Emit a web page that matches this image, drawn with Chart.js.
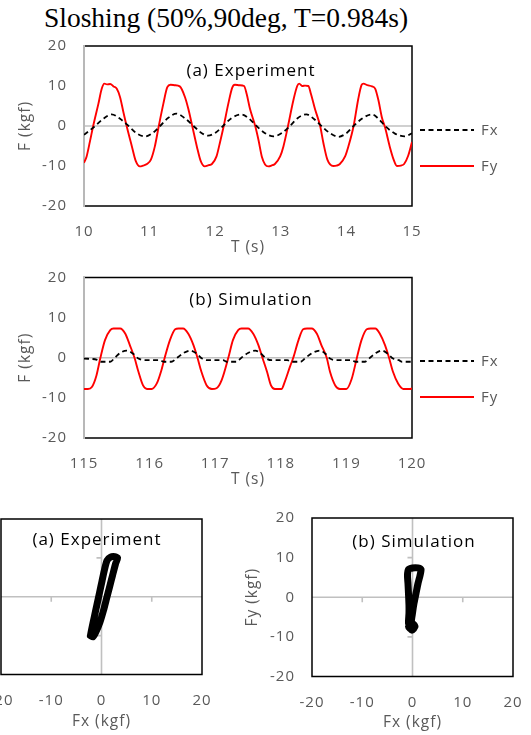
<!DOCTYPE html>
<html><head><meta charset="utf-8">
<script src="https://cdn.jsdelivr.net/npm/chart.js@4.4.1/dist/chart.umd.min.js"></script>
<style>
html,body{margin:0;padding:0;background:#fff;}
body{width:531px;height:735px;position:relative;overflow:hidden;}
canvas{position:absolute;}
.lab{position:absolute;white-space:nowrap;transform:translate(-50%,-50%);font-family:'Open Sans';font-size:17px;letter-spacing:1px;color:#000;line-height:1;}
#title{position:absolute;left:0;top:3px;width:452px;text-align:center;font-family:'Liberation Serif';font-size:27.5px;line-height:1.1;color:#000;white-space:nowrap;}
</style></head><body>
<div id="title">Sloshing (50%,90deg, T=0.984s)</div>
<canvas id="c1" width="531" height="262" style="left:0;top:0"></canvas>
<canvas id="c2" width="531" height="230" style="left:0;top:262px"></canvas>
<canvas id="c3" width="300" height="243" style="left:-90px;top:492px"></canvas>
<canvas id="c4" width="321" height="243" style="left:210px;top:492px"></canvas>
<div class="lab" style="left:251px;top:69px">(a) Experiment</div>
<div class="lab" style="left:251px;top:298px">(b) Simulation</div>
<div class="lab" style="left:97px;top:538px">(a) Experiment</div>
<div class="lab" style="left:414px;top:540px">(b) Simulation</div>
<script>
// ---------- data ----------
const seriesNames = ['Fx', 'Fy'];
const forceTicks = [-20, -10, 0, 10, 20];

// (a) Experiment, 10–15 s
const expFxT = [10.00,10.08,10.17,10.30,10.42,10.55,10.68,10.80,10.93,11.05,11.16,11.28,11.41,11.54,11.67,11.78,11.89,12.01,12.12,12.25,12.40,12.52,12.63,12.76,12.89,13.02,13.14,13.26,13.39,13.51,13.62,13.75,13.88,14.00,14.11,14.25,14.39,14.49,14.59,14.74,14.89,15.00];
const expFx  = [-2.2,-1.2,0,1.9,2.9,1.8,0,-1.8,-2.6,-1.7,0,2.0,3.1,1.9,0,-1.6,-2.4,-1.6,0,2.0,2.9,1.8,0,-1.8,-2.6,-1.7,0,2.0,2.9,1.7,0,-1.8,-2.7,-1.8,0,2.0,2.9,1.8,0,-1.9,-2.6,-1.8];

const expFyT = [10.00,10.04,10.09,10.14,10.22,10.27,10.31,10.35,10.40,10.45,10.50,10.55,10.60,10.65,10.73,10.79,10.85,10.90,10.96,
  11.02,11.08,11.14,11.21,11.27,11.32,11.38,11.46,11.54,11.59,11.65,11.72,11.78,11.84,11.90,11.95,
  12.02,12.07,12.13,12.20,12.26,12.30,12.37,12.44,12.48,12.53,12.61,12.66,12.71,12.76,12.81,12.87,12.91,12.99,
  13.04,13.11,13.19,13.25,13.28,13.33,13.37,13.42,13.46,13.52,13.60,13.65,13.71,13.80,13.85,13.90,13.98,
  14.03,14.11,14.18,14.23,14.26,14.32,14.39,14.44,14.49,14.54,14.59,14.66,14.72,14.77,14.83,14.88,14.94,15.00];
const expFy  = [-9.2,-7.6,-3.9,0,5.6,9.3,10.6,10.4,10.5,9.9,9.3,7.2,3.5,0,-5.1,-8.8,-10.1,-9.9,-9.5,
  -8.4,-5.1,0,5.6,9.7,10.3,10.2,9.9,7.2,4.3,0,-5.1,-8.8,-10.1,-9.8,-9.5,
  -7.6,-4.3,0,5.6,9.6,10.3,10.2,10.0,8.0,4.3,0,-3.5,-7.6,-9.6,-10.1,-9.8,-9.5,-7.6,
  -5.1,0,6.3,10.0,10.6,10.0,10.1,10.0,8.0,4.3,0,-4.3,-8.4,-10.0,-9.9,-9.5,-7.6,
  -5.1,0,6.7,10.2,10.6,10.2,9.9,9.3,6.3,2.2,-0.4,-5.1,-8.4,-10.0,-9.9,-9.5,-7.5,-4.0];

// (b) Simulation, 115–120 s
const simFxT = [115.00,115.20,115.26,115.40,115.47,115.55,115.65,115.75,115.83,115.92,116.15,116.22,116.33,116.42,116.52,116.62,116.72,116.80,116.88,
  117.12,117.18,117.32,117.40,117.50,117.61,117.70,117.78,117.86,118.10,118.16,118.30,118.38,118.48,118.60,118.68,118.75,118.84,
  119.08,119.14,119.28,119.36,119.45,119.54,119.63,119.71,119.80,119.85,120.00];
const simFx  = [-0.2,-0.5,-1.0,-1.0,0,1.2,1.8,1.0,-0.2,-0.6,-0.6,-1.0,-1.0,0,1.2,1.8,1.0,-0.2,-0.6,
  -0.6,-1.0,-1.0,0,1.2,1.8,1.0,-0.2,-0.6,-0.6,-1.0,-1.0,0,1.2,1.8,1.0,-0.2,-0.6,
  -0.6,-1.0,-1.0,0,1.2,1.8,1.0,-0.2,-0.6,-1.0,-1.0];

const simFyT = [115.00,115.06,115.12,115.19,115.25,115.32,115.40,115.45,115.55,115.63,115.70,115.77,115.83,115.90,115.96,
  116.03,116.11,116.18,116.23,116.31,116.39,116.44,116.51,116.59,116.67,116.73,116.79,116.87,116.95,
  117.02,117.10,117.20,117.27,117.35,117.40,117.50,117.58,117.66,117.72,117.79,117.85,117.91,
  118.01,118.06,118.14,118.19,118.27,118.34,118.40,118.47,118.55,118.62,118.70,118.75,118.83,118.90,
  119.00,119.08,119.16,119.23,119.31,119.37,119.44,119.51,119.59,119.65,119.71,119.79,119.87,119.97,120.00];
const simFy  = [-7.8,-7.8,-7.3,-4.4,0,4.4,6.9,7.3,7.3,6.0,3.1,0,-3.5,-6.9,-7.8,
  -7.8,-6.4,-3.1,0,4.4,7.1,7.3,7.3,6.0,3.1,0,-3.5,-6.9,-7.8,
  -7.6,-5.5,0,4.4,6.9,7.3,7.3,6.0,3.1,0,-3.5,-6.9,-7.8,
  -7.8,-6.0,-2.2,0,4.4,7.1,7.3,7.3,6.0,3.1,0,-3.5,-6.9,-7.8,
  -7.8,-5.3,0,4.4,7.1,7.3,7.3,6.0,3.1,0,-3.5,-6.5,-7.8,-7.8,-7.6];

// Fy vs Fx orbits
const loopExpFx = [-2.2,-1.9,-1.4,-0.9,-0.4,0.1,0.6,1.1,1.8,2.7,3.2,2.8,2.2,1.6,1.0,0.4,-0.3,-1.1,-1.7,-2.2];
const loopExpFy = [-10.0,-8.0,-5.0,-2.0,1.0,4.0,7.0,9.3,10.2,10.3,10.0,8.5,5.5,2.5,-0.5,-3.5,-6.5,-9.0,-10.3,-10.0];
const loopSimFx = [-0.5,-0.8,-0.7,-0.7,-0.8,-0.9,-1.0,-0.8,0.0,1.1,1.7,1.5,1.1,0.7,0.3,0.0,-0.2,0.5,-0.1,-0.8,-0.1,0.5];
const loopSimFy = [-7.8,-6.5,-4.0,-2.0,1.0,3.5,5.5,7.0,7.4,7.4,7.0,5.5,3.5,1.0,-1.5,-4.0,-6.2,-7.4,-8.3,-7.4,-6.5,-7.4];

// ---------- helpers ----------
function pts(xs, ys) { return xs.map((x, i) => ({x: x, y: ys[i]})); }
const FONT = 'Open Sans';
const GREY = '#595959';

const spacing = { id: 'spacing', beforeDraw(chart) { chart.ctx.letterSpacing = '1px'; } };

const frame = {
  id: 'frame',
  beforeDatasetsDraw(chart, args, o) {
    const {ctx, chartArea: a, scales} = chart;
    ctx.save();
    ctx.setLineDash([]);
    const y0 = scales.y.getPixelForValue(0);
    ctx.strokeStyle = '#c0c0c0';
    ctx.lineWidth = 1.6;
    ctx.beginPath();
    ctx.moveTo(a.left, y0); ctx.lineTo(a.right, y0);
    if (o.cross) {
      const x0 = scales.x.getPixelForValue(0);
      ctx.moveTo(x0, a.top); ctx.lineTo(x0, a.bottom);
      scales.x.ticks.forEach(t => {
        if (t.value !== 0 && Math.abs(t.value) < 20) {
          const px = scales.x.getPixelForValue(t.value);
          ctx.moveTo(px, y0); ctx.lineTo(px, y0 + 5);
        }
      });
      scales.y.ticks.forEach(t => {
        if (t.value !== 0 && Math.abs(t.value) < 20) {
          const py = scales.y.getPixelForValue(t.value);
          ctx.moveTo(x0 - 5, py); ctx.lineTo(x0, py);
        }
      });
    }
    ctx.stroke();
    ctx.strokeStyle = '#000';
    ctx.lineWidth = 1.5;
    ctx.strokeRect(a.left, a.top, a.width, a.height);
    if (o.greyLeft) {
      ctx.strokeStyle = '#b8b8b8';
      ctx.lineWidth = 2;
      ctx.beginPath(); ctx.moveTo(a.left, a.top - 1); ctx.lineTo(a.left, a.bottom + 1); ctx.stroke();
    }
    ctx.restore();
  }
};

const sideLegend = {
  id: 'sideLegend',
  afterDatasetsDraw(chart, args, o) {
    if (!o.ys) return;
    const ctx = chart.ctx;
    ctx.save();
    chart.data.datasets.forEach((ds, i) => {
      const y = o.ys[i];
      ctx.strokeStyle = ds.borderColor;
      ctx.lineWidth = ds.borderWidth;
      ctx.setLineDash(ds.borderDash || []);
      ctx.beginPath(); ctx.moveTo(o.x1, y); ctx.lineTo(o.x2, y); ctx.stroke();
      ctx.setLineDash([]);
      ctx.fillStyle = GREY;
      ctx.font = '15px "' + FONT + '"';
      ctx.textBaseline = 'middle';
      ctx.textAlign = 'left';
      ctx.fillText(ds.label, o.tx, y + 1);
    });
    ctx.restore();
  }
};

function axis(min, max, step, title, titlePad, labelPad, fit, isX) {
  return {
    type: 'linear', min: min, max: max,
    ticks: { stepSize: step, color: GREY, font: {family: FONT, size: 15}, padding: labelPad, maxRotation: 0, autoSkip: false },
    grid: { display: false, drawTicks: false },
    border: { display: false },
    title: title ? { display: true, text: title, color: GREY, font: {family: FONT, size: 15.5}, padding: titlePad } : { display: false },
    afterFit: s => {
      if (isX) s.height = fit; else s.width = fit;
      s.paddingLeft = 0; s.paddingRight = 0; s.paddingTop = 0; s.paddingBottom = 0;
    }
  };
}

function timeChart(id, fxT, fx, fyT, fy, tMin, tMax, pad, xH, xTitlePad, legendYs) {
  return new Chart(document.getElementById(id), {
    type: 'line',
    data: { datasets: [
      { label: seriesNames[0], data: pts(fxT, fx), borderColor: '#000000', borderWidth: 1.8, borderDash: [5, 3.5], pointRadius: 0, cubicInterpolationMode: 'monotone', fill: false },
      { label: seriesNames[1], data: pts(fyT, fy), borderColor: '#ff0000', borderWidth: 1.9, pointRadius: 0, cubicInterpolationMode: 'monotone', fill: false }
    ]},
    options: {
      responsive: false, animation: false, devicePixelRatio: 1,
      layout: { padding: pad },
      plugins: { legend: { display: false }, tooltip: { enabled: false },
        frame: { greyLeft: true }, sideLegend: { ys: legendYs, x1: 420, x2: 474, tx: 481 } },
      scales: {
        x: axis(tMin, tMax, 1, 'T (s)', {top: 0, bottom: xTitlePad}, 17, xH, true),
        y: axis(forceTicks[0], forceTicks[forceTicks.length - 1], 10, 'F (kgf)', {top: 16, bottom: 0}, 17, 84, false)
      }
    },
    plugins: [spacing, frame, sideLegend]
  });
}

function orbitChart(id, lx, ly, pad, yW, xH, xTitlePad, yTitlePad) {
  return new Chart(document.getElementById(id), {
    type: 'scatter',
    data: { datasets: [
      { label: 'Fy-Fx', data: pts(lx.concat([lx[0]]), ly.concat([ly[0]])), showLine: true, borderColor: '#000', backgroundColor: '#000', borderWidth: 7, borderCapStyle: 'round', borderJoinStyle: 'round', pointRadius: 0, tension: 0.2 }
    ]},
    options: {
      responsive: false, animation: false, devicePixelRatio: 1,
      layout: { padding: pad },
      plugins: { legend: { display: false }, tooltip: { enabled: false }, frame: { cross: true } },
      scales: {
        x: axis(-20, 20, 10, 'Fx (kgf)', {top: 0, bottom: xTitlePad}, 17, xH, true),
        y: axis(-20, 20, 10, 'Fy (kgf)', {top: yTitlePad, bottom: 0}, 17, yW, false)
      }
    },
    plugins: [spacing, frame]
  });
}

timeChart('c1', expFxT, expFx, expFyT, expFy, 10, 15, {top: 46, right: 119, bottom: 0, left: 0}, 56, 4.7, [130, 166]);
timeChart('c2', simFxT, simFx, simFyT, simFy, 115, 120, {top: 15.5, right: 119, bottom: 0, left: 0}, 54, 2.7, [99, 135]);
orbitChart('c3', loopExpFx, loopExpFy, {top: 27, right: 8, bottom: 0, left: 0}, 91, 60.5, 3.7, 17);
orbitChart('c4', loopSimFx, loopSimFy, {top: 26, right: 18, bottom: 0, left: 0}, 102, 58.5, 2.7, 33);
</script>
</body></html>
